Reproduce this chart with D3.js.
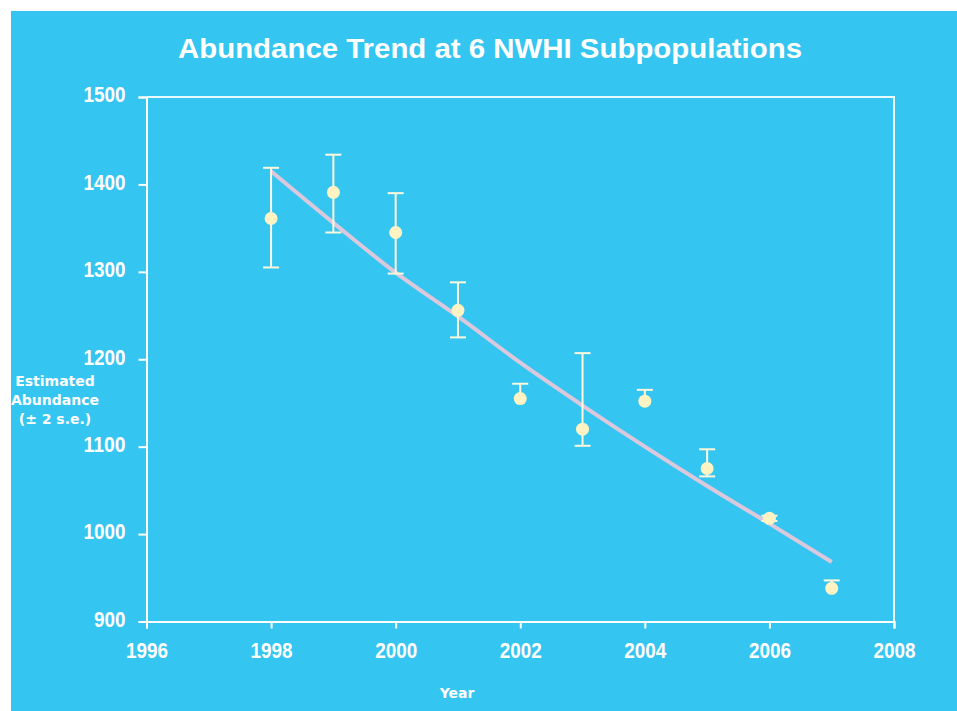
<!DOCTYPE html>
<html>
<head>
<meta charset="utf-8">
<script src="https://cdn.jsdelivr.net/npm/d3@7"></script>
<style>
  body { margin: 0; background: #fff; }
  svg { display: block; }
</style>
</head>
<body>
<script>
// values
var years = [1998, 1999, 2000, 2001, 2002, 2003, 2004, 2005, 2006, 2007];
var estimates = [1361, 1391, 1345, 1256, 1155, 1120, 1152, 1075, 1018, 938];
var upper = [1419, 1434, 1390, 1288, 1172, 1207, 1165, 1097, 1021, 947];
var lower = [1305, 1345, 1298, 1225, 1155, 1101, 1152, 1066, 1015, 938];
var trend = [1415, 1356, 1299, 1249, 1196, 1147, 1100, 1055, 1012, 968];
var xTicks = [1996, 1998, 2000, 2002, 2004, 2006, 2008];
var yTicks = [900, 1000, 1100, 1200, 1300, 1400, 1500];

var width = 957, height = 711;

var svg = d3.select("body").append("svg")
  .attr("width", width)
  .attr("height", height);

// blue panel with white edge on top and left
svg.append("rect")
  .attr("x", 11).attr("y", 11)
  .attr("width", width - 11).attr("height", height - 11)
  .style("fill", "#35c5f1");

var x = d3.scaleLinear().domain([1996, 2008]).range([146.5, 894]);
var y = d3.scaleLinear().domain([900, 1500]).range([621.5, 97]);

svg.append("text")
  .attr("x", 490).attr("y", 58)
  .attr("text-anchor", "middle")
  .attr("textLength", 624)
  .attr("lengthAdjust", "spacingAndGlyphs")
  .style("font-family", "Liberation Sans, Arial, sans-serif")
  .style("font-weight", "bold")
  .style("font-size", "27px")
  .style("fill", "#ffffff")
  .text("Abundance Trend at 6 NWHI Subpopulations");

// frame (top and right)
svg.append("path")
  .attr("d", "M" + x(1996) + "," + y(1500) + "H" + x(2008) + "V" + y(900))
  .style("fill", "none")
  .style("stroke", "#e8fbff")
  .style("stroke-width", 2);

var xAxis = svg.append("g")
  .attr("transform", "translate(0," + y(900) + ")")
  .call(d3.axisBottom(x).tickValues(xTicks).tickFormat(d3.format("d")).tickSize(7).tickPadding(12));

var yAxis = svg.append("g")
  .attr("transform", "translate(" + x(1996) + ",0)")
  .call(d3.axisLeft(y).tickValues(yTicks).tickFormat(d3.format("d")).tickSize(8).tickPadding(13));

// condensed look for the tick numbers
[xAxis, yAxis].forEach(function(g){
  g.select(".domain").style("stroke", "#ffffff").style("stroke-width", 2);
  g.selectAll(".tick line").style("stroke", "#ffffff").style("stroke-width", 2);
  g.selectAll(".tick text")
    .attr("textLength", function(d){ return String(d).length * 10.5; })
    .attr("lengthAdjust", "spacingAndGlyphs")
    .style("font-family", "Liberation Sans, Arial, sans-serif")
    .style("font-weight", "bold")
    .style("font-size", "22px")
    .style("fill", "#ffffff");
});
yAxis.selectAll(".tick text").attr("dy", "0.22em");
xAxis.selectAll(".tick text").attr("dy", "0.8em");

// trend line
var line = d3.line()
  .x(function(d, i){ return x(years[i]); })
  .y(function(d){ return y(d); })
  .curve(d3.curveMonotoneX);

svg.append("path")
  .datum(trend)
  .attr("d", line)
  .style("fill", "none")
  .style("stroke", "#dcc8dc")
  .style("stroke-width", 4);

// error bars
var bars = svg.append("g").selectAll("g")
  .data(years)
  .enter()
  .append("g")
  .style("stroke", "#fdf8dc")
  .style("stroke-width", 2);

bars.append("line")
  .attr("x1", function(d){ return x(d); })
  .attr("x2", function(d){ return x(d); })
  .attr("y1", function(d, i){ return y(upper[i]); })
  .attr("y2", function(d, i){ return y(lower[i]); });

bars.append("line")
  .attr("x1", function(d){ return x(d) - 8; })
  .attr("x2", function(d){ return x(d) + 8; })
  .attr("y1", function(d, i){ return y(upper[i]); })
  .attr("y2", function(d, i){ return y(upper[i]); });

// lower cap only where the bar reaches below the point
bars.filter(function(d, i){ return lower[i] < estimates[i]; })
  .append("line")
  .attr("x1", function(d){ return x(d) - 8; })
  .attr("x2", function(d){ return x(d) + 8; })
  .attr("y1", function(d){ return y(lower[years.indexOf(d)]); })
  .attr("y2", function(d){ return y(lower[years.indexOf(d)]); });

svg.append("g").selectAll("circle")
  .data(years)
  .enter()
  .append("circle")
  .attr("cx", function(d){ return x(d); })
  .attr("cy", function(d, i){ return y(estimates[i]); })
  .attr("r", 6.5)
  .style("fill", "#fff3c4");

// axis titles
var yTitle = svg.append("text")
  .attr("text-anchor", "middle")
  .style("font-family", "DejaVu Sans, Verdana, sans-serif")
  .style("font-weight", "bold")
  .style("font-size", "14px")
  .style("fill", "#ffffff");
["Estimated", "Abundance", "(\u00b1 2 s.e.)"].forEach(function(t, i){
  yTitle.append("tspan").attr("x", 55).attr("y", 386 + i * 19).text(t);
});

svg.append("text")
  .attr("x", 457).attr("y", 698)
  .attr("text-anchor", "middle")
  .style("font-family", "DejaVu Sans, Verdana, sans-serif")
  .style("font-weight", "bold")
  .style("font-size", "14px")
  .style("fill", "#ffffff")
  .text("Year");
</script>
</body>
</html>
